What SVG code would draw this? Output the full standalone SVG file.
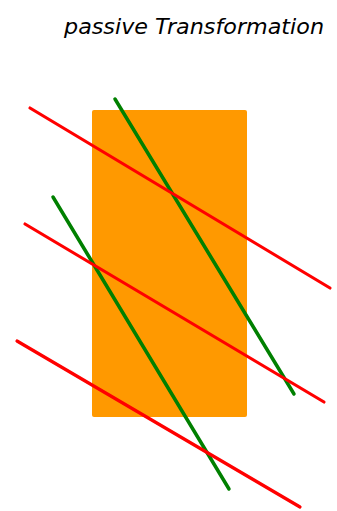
<svg xmlns="http://www.w3.org/2000/svg" width="337" height="511" viewBox="0 0 337 511">
<style>
.red{stroke:#ff0000;stroke-width:3.2;stroke-linecap:round;fill:none}
.green{stroke:#008000;stroke-width:3.5;stroke-linecap:round;fill:none}
.title{font-family:"DejaVu Sans",sans-serif;font-size:21px;font-style:italic;fill:#000}
</style>
<rect width="337" height="511" fill="#ffffff"/>
<g id="title"><text class="title" x="64" y="34" textLength="260" lengthAdjust="spacingAndGlyphs">passive Transformation</text></g>
<g id="frame"><rect x="92" y="110" width="155" height="307" rx="2" fill="#ff9900"/></g>
<g id="connectors">
<line class="green" x1="115" y1="99" x2="294" y2="394"/>
<line class="green" x1="53" y1="197" x2="229" y2="489"/>
<line class="red" x1="30" y1="108" x2="330" y2="288"/>
<line class="red" x1="25" y1="224" x2="324" y2="402"/>
<line class="red" x1="17" y1="341" x2="300" y2="507"/>
</g>
</svg>
